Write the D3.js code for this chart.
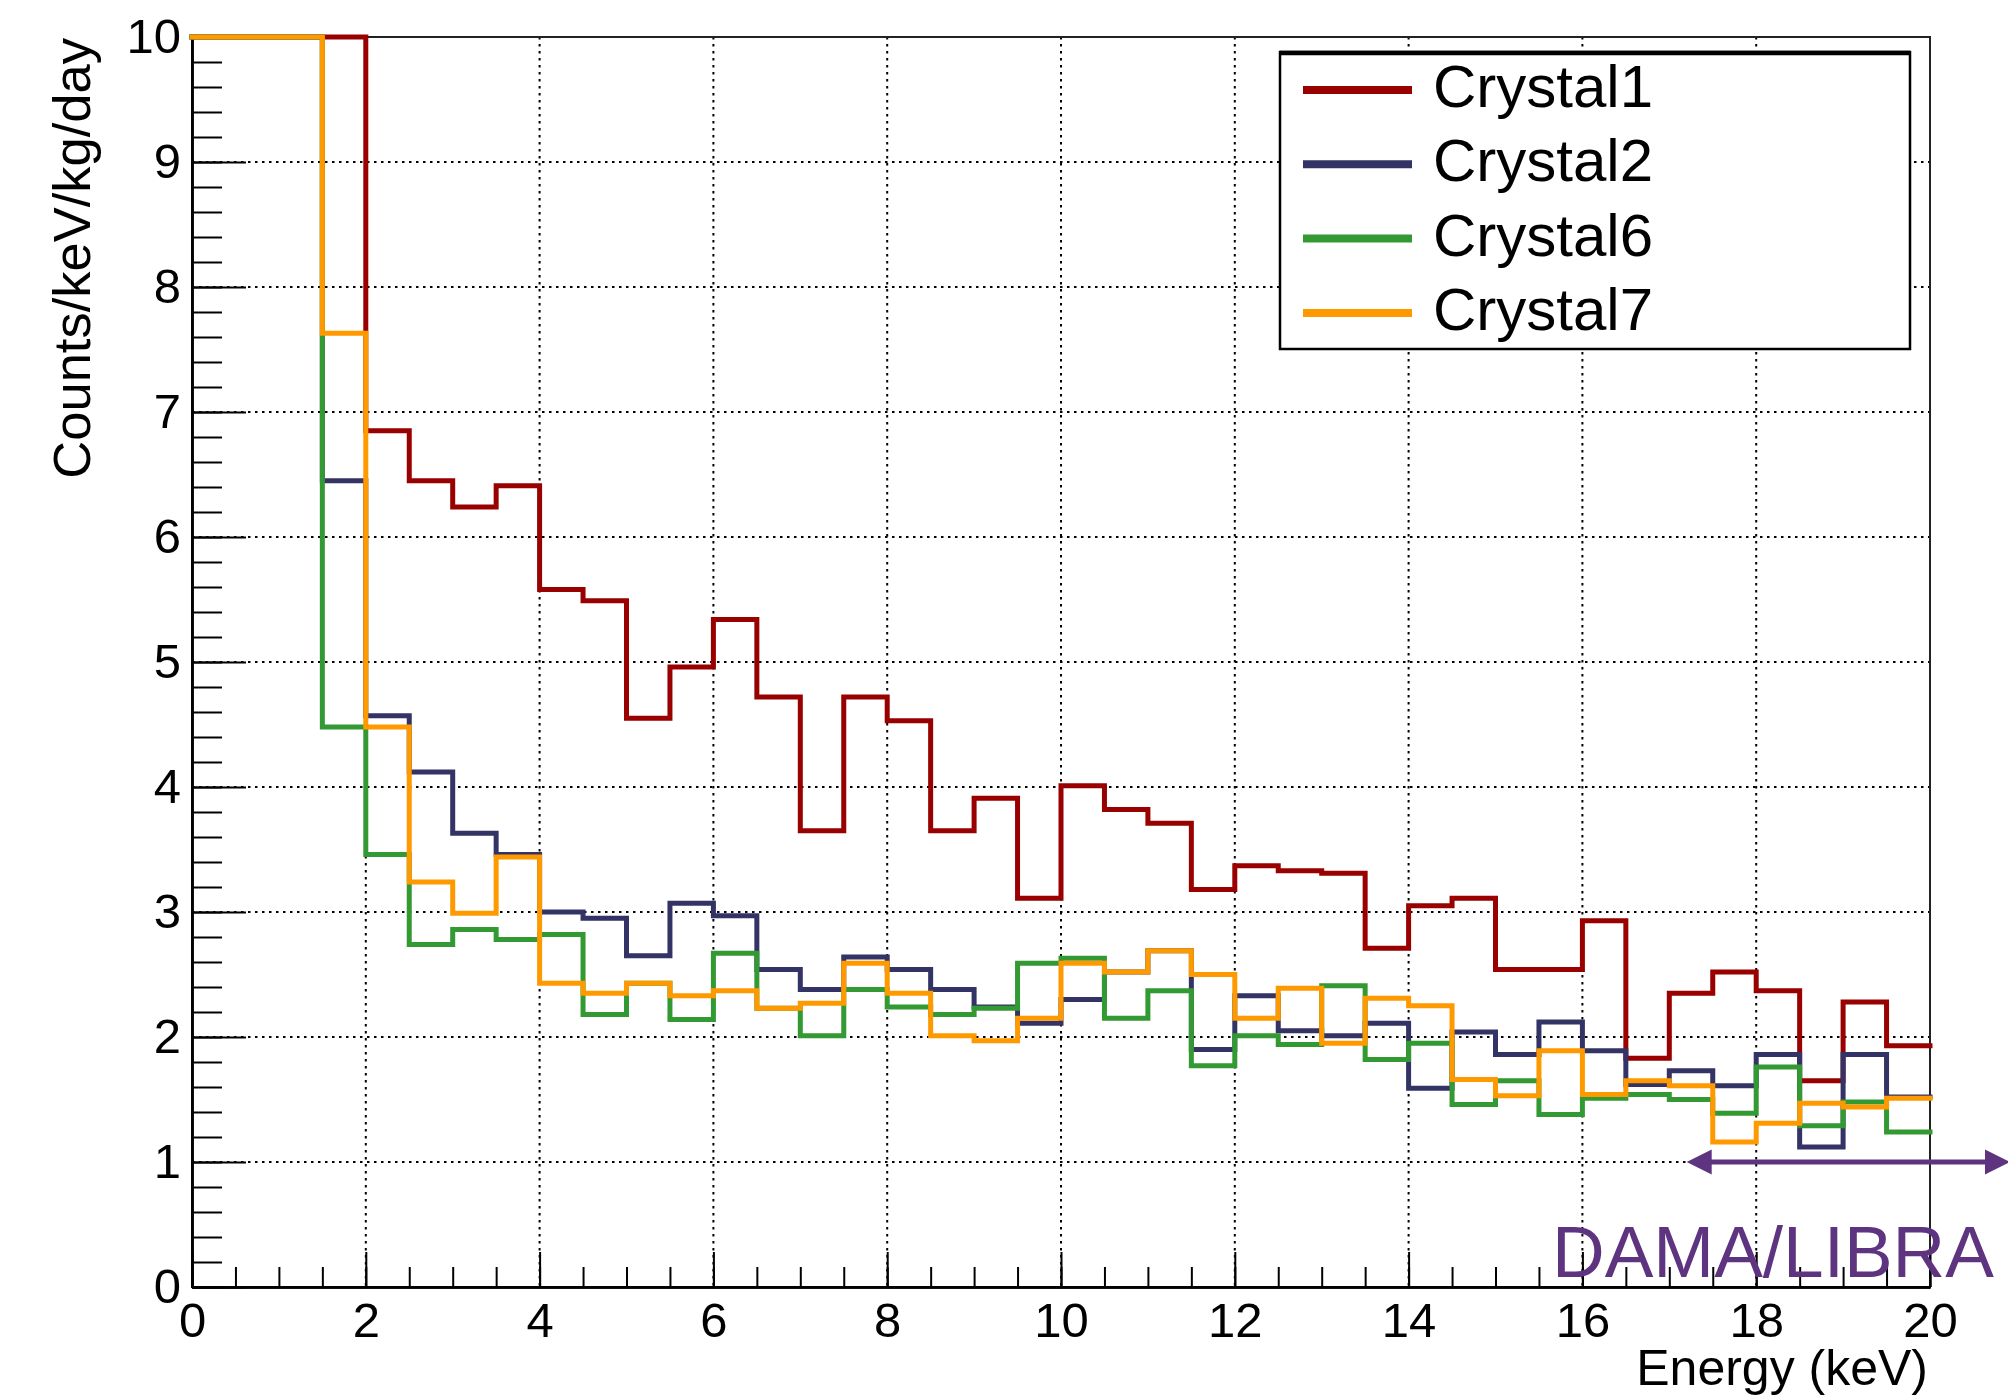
<!DOCTYPE html>
<html>
<head>
<meta charset="utf-8">
<script src="https://cdn.jsdelivr.net/npm/d3@7"></script>
<style>
  html, body { margin: 0; padding: 0; background: #fff; }
  svg { display: block; }
  text { font-family: "Liberation Sans", Arial, Helvetica, sans-serif; fill: #000; }
</style>
</head>
<body>
<svg id="chart" width="2008" height="1398"></svg>
<script>
// Bin edges in keV (0.5 keV bins from 0 to 20 keV)
const binEdges = [0, 0.5, 1, 1.5, 2, 2.5, 3, 3.5, 4, 4.5, 5, 5.5, 6, 6.5, 7, 7.5, 8, 8.5, 9, 9.5,
                  10, 10.5, 11, 11.5, 12, 12.5, 13, 13.5, 14, 14.5, 15, 15.5, 16, 16.5, 17, 17.5, 18, 18.5, 19, 19.5, 20];

// Rates in counts/keV/kg/day for each bin (bins below 2 keV run off the top of the frame)
const crystal1 = [10, 10, 10, 10, 6.85, 6.45, 6.24, 6.41, 5.58, 5.49, 4.55, 4.96, 5.34, 4.72, 3.65, 4.72,
                  4.53, 3.65, 3.91, 3.11, 4.01, 3.82, 3.71, 3.18, 3.37, 3.33, 3.31, 2.71, 3.05, 3.11,
                  2.54, 2.54, 2.93, 1.83, 2.35, 2.52, 2.37, 1.65, 2.28, 1.93];
const crystal2 = [10, 10, 10, 6.45, 4.57, 4.12, 3.63, 3.46, 3.00, 2.95, 2.65, 3.07, 2.97, 2.54, 2.38, 2.64,
                  2.54, 2.38, 2.24, 2.11, 2.30, 2.52, 2.69, 1.90, 2.33, 2.05, 2.01, 2.11, 1.59, 2.04,
                  1.86, 2.12, 1.89, 1.62, 1.73, 1.61, 1.86, 1.12, 1.86, 1.52];
const crystal6 = [10, 10, 10, 4.48, 3.46, 2.74, 2.86, 2.78, 2.82, 2.18, 2.43, 2.14, 2.67, 2.23, 2.01, 2.38,
                  2.24, 2.18, 2.23, 2.59, 2.63, 2.15, 2.37, 1.77, 2.01, 1.94, 2.41, 1.82, 1.95, 1.46,
                  1.65, 1.38, 1.51, 1.54, 1.50, 1.39, 1.76, 1.29, 1.48, 1.24];
const crystal7 = [10, 10, 10, 7.63, 4.48, 3.24, 2.99, 3.44, 2.43, 2.35, 2.43, 2.33, 2.37, 2.23, 2.27, 2.59,
                  2.35, 2.01, 1.97, 2.15, 2.59, 2.52, 2.69, 2.50, 2.15, 2.39, 1.95, 2.31, 2.25, 1.66,
                  1.53, 1.89, 1.54, 1.65, 1.61, 1.16, 1.31, 1.47, 1.44, 1.51];

const seriesNames = ["Crystal1", "Crystal2", "Crystal6", "Crystal7"];
const seriesColors = ["#990000", "#333366", "#339933", "#ff9900"];
const seriesValues = [crystal1, crystal2, crystal6, crystal7];

const xMajorTicks = [0, 2, 4, 6, 8, 10, 12, 14, 16, 18, 20];
const yMajorTicks = [0, 1, 2, 3, 4, 5, 6, 7, 8, 9, 10];

const xTitle = "Energy (keV)";
const yTitle = "Counts/keV/kg/day";
const bandLabel = "DAMA/LIBRA";
const bandStart = 17.2;   // keV, left end of the annotation arrow
const bandLevel = 1;      // counts/keV/kg/day

// ---- layout ----
const svg = d3.select("#chart");
const frame = { left: 192, right: 1930, top: 37, bottom: 1287 };

const x = d3.scaleLinear().domain([0, 20]).range([frame.left, frame.right]);
const y = d3.scaleLinear().domain([0, 10]).range([frame.bottom, frame.top]).clamp(true);

// ---- dotted grid at the major ticks ----
const grid = svg.append("g").attr("class", "grid")
  .attr("stroke", "#000").attr("stroke-width", 2).attr("stroke-dasharray", "2.5,4.5");
grid.selectAll("line.v").data(xMajorTicks).join("line").attr("class", "v")
  .attr("x1", d => x(d)).attr("x2", d => x(d))
  .attr("y1", frame.top).attr("y2", frame.bottom);
grid.selectAll("line.h").data(yMajorTicks).join("line").attr("class", "h")
  .attr("x1", frame.left).attr("x2", frame.right)
  .attr("y1", d => y(d)).attr("y2", d => y(d));

// ---- frame (top and right sides) ----
svg.append("rect")
  .attr("x", frame.left).attr("y", frame.top)
  .attr("width", frame.right - frame.left).attr("height", frame.bottom - frame.top)
  .attr("fill", "none").attr("stroke", "#222").attr("stroke-width", 2);

// ---- axes: ticks point into the plot ----
const fontTick = 49;

const xMinor = d3.range(0, 20.001, 0.5);
const yMinor = d3.range(0, 10.001, 0.2);

const xAxisMinor = svg.append("g").attr("transform", `translate(0,${frame.bottom})`)
  .call(d3.axisBottom(x).tickValues(xMinor).tickSizeInner(-20).tickSizeOuter(0).tickFormat(""));
const xAxisMajor = svg.append("g").attr("transform", `translate(0,${frame.bottom})`)
  .call(d3.axisBottom(x).tickValues(xMajorTicks).tickSizeInner(-35).tickSizeOuter(0)
        .tickPadding(15).tickFormat(d3.format("d")));
const yAxisMinor = svg.append("g").attr("transform", `translate(${frame.left},0)`)
  .call(d3.axisLeft(y).tickValues(yMinor).tickSizeInner(-30).tickSizeOuter(0).tickFormat(""));
const yAxisMajor = svg.append("g").attr("transform", `translate(${frame.left},0)`)
  .call(d3.axisLeft(y).tickValues(yMajorTicks).tickSizeInner(-54).tickSizeOuter(0)
        .tickPadding(11).tickFormat(d3.format("d")));

[xAxisMinor, xAxisMajor, yAxisMinor, yAxisMajor].forEach(g => {
  g.selectAll("path.domain").attr("stroke", "#000").attr("stroke-width", 2.5);
  g.selectAll(".tick line").attr("stroke", "#000").attr("stroke-width", 2);
  g.selectAll(".tick text")
    .attr("font-family", '"Liberation Sans", Arial, sans-serif')
    .attr("font-size", fontTick).attr("fill", "#000");
});

// ---- step histograms ----
const stepLine = d3.line()
  .x(d => x(d[0]))
  .y(d => y(d[1]))
  .curve(d3.curveStepAfter);

seriesValues.forEach((vals, i) => {
  const pts = vals.map((v, k) => [binEdges[k], v]);
  pts.push([binEdges[vals.length], vals[vals.length - 1]]);
  svg.append("path")
    .datum(pts)
    .attr("d", stepLine)
    .attr("fill", "none")
    .attr("stroke", seriesColors[i])
    .attr("stroke-width", 5)
    .attr("stroke-linejoin", "miter")
    .attr("stroke-linecap", "square");
});

// ---- axis titles ----
svg.append("text")
  .attr("x", 1928).attr("y", 1385)
  .attr("text-anchor", "end")
  .attr("font-size", 50)
  .text(xTitle);

svg.append("text")
  .attr("transform", `translate(90,38) rotate(-90)`)
  .attr("text-anchor", "end")
  .attr("font-size", 52.5)
  .text(yTitle);

// ---- legend ----
const legend = svg.append("g").attr("class", "legend");
const lg = { x0: 1280, x1: 1910, y0: 52, y1: 349 };
legend.append("rect")
  .attr("x", lg.x0).attr("y", lg.y0)
  .attr("width", lg.x1 - lg.x0).attr("height", lg.y1 - lg.y0)
  .attr("fill", "#fff").attr("stroke", "#000").attr("stroke-width", 2.5);
legend.append("line")
  .attr("x1", lg.x0).attr("x2", lg.x1).attr("y1", lg.y0 + 1).attr("y2", lg.y0 + 1)
  .attr("stroke", "#000").attr("stroke-width", 4.5);

const rowGap = 74.3;
seriesNames.forEach((name, i) => {
  const ly = 90 + i * rowGap;
  legend.append("line")
    .attr("x1", 1303).attr("x2", 1412).attr("y1", ly).attr("y2", ly)
    .attr("stroke", seriesColors[i]).attr("stroke-width", 8);
  legend.append("text")
    .attr("x", 1433).attr("y", 107 + i * rowGap)
    .attr("font-size", 60)
    .text(name);
});

// ---- DAMA/LIBRA annotation ----
const purple = "#5e3481";
const ay = y(bandLevel);
const axL = x(bandStart);
const axR = 2010;
const headL = 25, headH = 12.5;
svg.append("line")
  .attr("x1", axL + headL - 2).attr("x2", axR - headL + 2)
  .attr("y1", ay).attr("y2", ay)
  .attr("stroke", purple).attr("stroke-width", 5);
svg.append("path")
  .attr("d", `M${axL},${ay} L${axL + headL},${ay - headH} L${axL + headL},${ay + headH} Z`)
  .attr("fill", purple);
svg.append("path")
  .attr("d", `M${axR},${ay} L${axR - headL},${ay - headH} L${axR - headL},${ay + headH} Z`)
  .attr("fill", purple);

svg.append("text")
  .attr("x", 1552).attr("y", 1277)
  .attr("font-family", "Roboto, 'Liberation Sans', sans-serif")
  .attr("font-weight", 300)
  .attr("font-size", 72)
  .attr("textLength", 442)
  .attr("lengthAdjust", "spacingAndGlyphs")
  .style("fill", purple)
  .text(bandLabel);
</script>
</body>
</html>
